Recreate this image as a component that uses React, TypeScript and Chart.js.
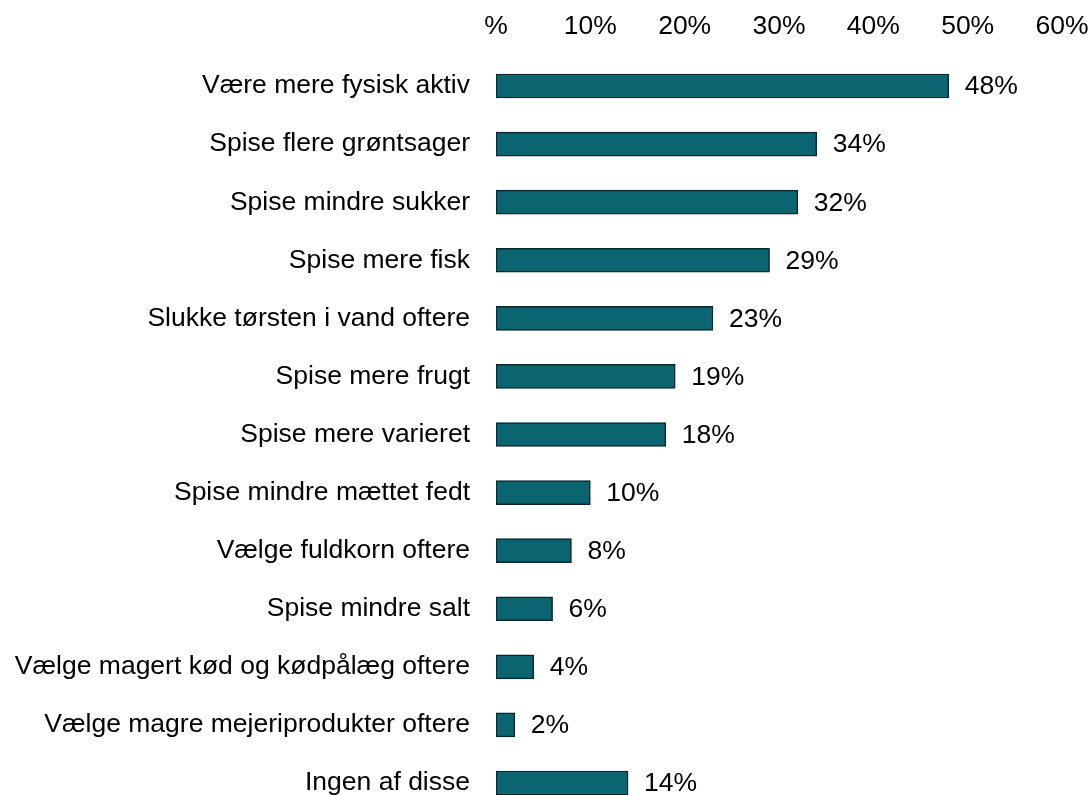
import React, { useEffect, useRef } from "react";
import { Chart, registerables } from "chart.js";

Chart.register(...registerables);

const categories = [
  "Være mere fysisk aktiv",
  "Spise flere grøntsager",
  "Spise mindre sukker",
  "Spise mere fisk",
  "Slukke tørsten i vand oftere",
  "Spise mere frugt",
  "Spise mere varieret",
  "Spise mindre mættet fedt",
  "Vælge fuldkorn oftere",
  "Spise mindre salt",
  "Vælge magert kød og kødpålæg oftere",
  "Vælge magre mejeriprodukter oftere",
  "Ingen af disse",
];

const values = [48, 34, 32, 29, 23, 19, 18, 10, 8, 6, 4, 2, 14];

const xTickLabels = ["%", "10%", "20%", "30%", "40%", "50%", "60%"];

const FONT = "'Liberation Sans', Arial, Helvetica, sans-serif";

const valueLabelPlugin = {
  id: "valueLabels",
  afterDatasetsDraw(chart: any) {
    const ctx = chart.ctx;
    const meta = chart.getDatasetMeta(0);
    ctx.save();
    ctx.font = `26.5px ${FONT}`;
    ctx.fillStyle = "#000";
    ctx.textAlign = "left";
    ctx.textBaseline = "middle";
    meta.data.forEach((bar: any, i: number) => {
      ctx.fillText(values[i] + "%", bar.x + 16, bar.y + 1);
    });
    ctx.restore();
  },
};

export default function App() {
  const ref = useRef<HTMLCanvasElement | null>(null);

  useEffect(() => {
    if (!ref.current) return;
    const chart = new Chart(ref.current, {
      type: "bar",
      data: {
        labels: categories,
        datasets: [
          {
            data: values,
            backgroundColor: "#0a6570",
            borderColor: "#07292d",
            borderWidth: 1.5,
            borderSkipped: false,
            barThickness: 24,
          },
        ],
      },
      options: {
        indexAxis: "y",
        responsive: false,
        animation: false,
        layout: { padding: { top: 0, right: 29, bottom: 0, left: 0 } },
        plugins: {
          legend: { display: false },
          tooltip: { enabled: false },
        },
        scales: {
          x: {
            position: "top",
            min: 0,
            max: 60,
            border: { display: false },
            grid: { display: false, drawTicks: false, tickLength: 0 },
            ticks: {
              stepSize: 10,
              padding: 14.5,
              color: "#000",
              font: { family: FONT, size: 26.5 },
              maxRotation: 0,
              autoSkip: false,
              callback: (_v: any, i: number) => xTickLabels[i],
            },
            afterFit: (scale: any) => {
              scale.height = 57;
              scale.paddingLeft = 0;
              scale.paddingRight = 0;
              scale.paddingTop = 0;
              scale.paddingBottom = 0;
            },
          },
          y: {
            border: { display: false },
            grid: { display: false, drawTicks: false, tickLength: 0 },
            ticks: {
              padding: 26,
              color: "#000",
              font: { family: FONT, size: 26.5 },
              autoSkip: false,
            },
            afterFit: (scale: any) => {
              scale.width = 496;
              scale.paddingLeft = 0;
              scale.paddingRight = 0;
              scale.paddingTop = 0;
              scale.paddingBottom = 0;
            },
          },
        },
      },
      plugins: [valueLabelPlugin],
    });
    return () => chart.destroy();
  }, []);

  return (
    <div
      style={{
        position: "fixed",
        left: 0,
        top: 0,
        width: 1091,
        height: 795,
        overflow: "hidden",
        background: "#fff",
      }}
    >
      <canvas ref={ref} width={1091} height={812} style={{ display: "block" }} />
    </div>
  );
}
